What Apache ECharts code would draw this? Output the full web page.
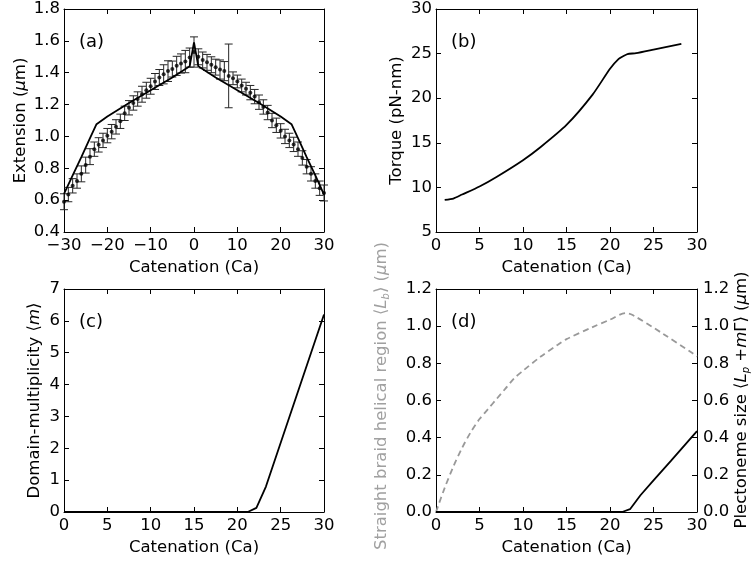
<!DOCTYPE html>
<html>
<head>
<meta charset="utf-8">
<script src="https://cdn.jsdelivr.net/npm/echarts@6/dist/echarts.min.js"></script>
<style>
html,body{margin:0;padding:0;background:#fff;}
#chart{width:754px;height:565px;}
</style>
</head>
<body>
<div id="chart"></div>
<script>
// ---------- DATA ----------
// (a) experimental extension vs catenation, with error bars
const catA = [-30,-29,-28,-27,-26,-25,-24,-23,-22,-21,-20,-19,-18,-17,-16,-15,-14,-13,-12,-11,-10,-9,-8,-7,-6,-5,-4,-3,-2,-1,0,1,2,3,4,5,6,7,8,9,10,11,12,13,14,15,16,17,18,19,20,21,22,23,24,25,26,27,28,29,30];
const extA = [0.59,0.635,0.69,0.72,0.765,0.82,0.873,0.92,0.947,0.975,1.005,1.03,1.06,1.095,1.145,1.18,1.21,1.235,1.265,1.29,1.315,1.345,1.37,1.39,1.41,1.423,1.443,1.458,1.47,1.495,1.53,1.50,1.48,1.465,1.45,1.435,1.42,1.41,1.38,1.365,1.345,1.32,1.30,1.275,1.25,1.215,1.185,1.15,1.10,1.07,1.035,1.0,0.975,0.95,0.92,0.865,0.81,0.765,0.72,0.675,0.645];
const errA = [0.05,0.045,0.045,0.045,0.05,0.05,0.05,0.045,0.045,0.045,0.045,0.045,0.045,0.045,0.045,0.045,0.045,0.045,0.05,0.05,0.05,0.05,0.05,0.06,0.065,0.05,0.06,0.06,0.07,0.06,0.095,0.05,0.05,0.05,0.05,0.05,0.06,0.06,0.2,0.04,0.04,0.04,0.04,0.045,0.045,0.045,0.045,0.045,0.045,0.045,0.045,0.045,0.045,0.045,0.045,0.045,0.045,0.045,0.045,0.045,0.05];
// (a) model curve
const catModel = [-30,-28,-26,-24,-22.5,-20,-15,-10,-5,-1,0,1,5,10,15,20,22.5,24,26,28,30];
const extModel = [0.64,0.755,0.87,0.99,1.077,1.125,1.21,1.29,1.37,1.44,1.59,1.44,1.37,1.29,1.21,1.125,1.077,0.99,0.87,0.755,0.635];
// (b) torque
const catB = [1,2,3,5,7,10,12,15,18,20,21,21.5,22,23,25,28.2];
const torqueB = [8.6,8.75,9.2,10.1,11.2,13.05,14.5,17.0,20.4,23.3,24.4,24.7,24.95,25.05,25.45,26.1];
// (c) domain multiplicity
const catC = [0,5,10,15,20,21.2,22.2,23.3,25.1,30];
const multC = [0,0,0,0,0,0,0.13,0.8,2.25,6.2];
// (d) straight braid helical region (grey dashed, left axis)
const catD1 = [0,1,2,3,4,5,6,7,8,9,10,12,14,15,18,20,21.8,22.6,26,29.5,30];
const lbD = [0.0,0.13,0.245,0.345,0.43,0.5,0.555,0.61,0.665,0.72,0.76,0.835,0.9,0.93,0.995,1.035,1.07,1.06,0.962,0.854,0.836];
// (d) plectoneme size (black, right axis)
const catD2 = [0,5,10,15,20,21.4,22.3,23.5,25,27,30];
const lpD = [0,0,0,0,0,0,0.015,0.09,0.17,0.275,0.435];

// tick settings
const xTicksA = {min:-30, max:30, interval:10};
const yTicksA = {min:0.4, max:1.8, interval:0.2};
const xTicks = {min:0, max:30, interval:5};
const yTicksB = {min:5, max:30, interval:5};
const yTicksC = {min:0, max:7, interval:1};
const yTicksD = {min:0, max:1.2, interval:0.2};
const xName = 'Catenation (Ca)';

// ---------- CHART ----------
const FONT = 'DejaVu Sans';
const FS = 16.5;
const chart = echarts.init(document.getElementById('chart'));

function minusFmt(v){ return v < 0 ? '\u2212' + Math.abs(v) : String(v); }

function xAxisPair(grid, ticks){
  const base = {
    gridIndex: grid, type:'value', min:ticks.min, max:ticks.max, interval:ticks.interval,
    splitLine:{show:false},
    axisLine:{show:true, onZero:false, lineStyle:{color:'#000', width:1}},
    axisTick:{show:true, inside:true, length:5, lineStyle:{color:'#000'}}
  };
  return [
    Object.assign({}, base, {position:'bottom',
      name:xName, nameLocation:'middle', nameGap:27,
      nameTextStyle:{fontFamily:FONT, fontSize:FS, color:'#000'},
      axisLabel:{show:true, margin:5, fontFamily:FONT, fontSize:FS, color:'#000', formatter:minusFmt}}),
    Object.assign({}, base, {position:'top', axisLabel:{show:false}})
  ];
}
function yAxisPair(grid, ticks, fmt, leftName, leftGap, rightLabels){
  const base = {
    gridIndex: grid, type:'value', min:ticks.min, max:ticks.max, interval:ticks.interval,
    splitLine:{show:false},
    axisLine:{show:true, onZero:false, lineStyle:{color:'#000', width:1}},
    axisTick:{show:true, inside:true, length:5, lineStyle:{color:'#000'}}
  };
  const left = Object.assign({}, base, {position:'left',
    axisLabel:{show:true, margin:4, fontFamily:FONT, fontSize:FS, color:'#000', formatter:fmt}});
  if (leftName){
    Object.assign(left, {name:leftName.text, nameLocation:'middle', nameGap:leftGap,
      nameTextStyle:{fontFamily:FONT, fontSize:FS, color:'#000', rich:leftName.rich}});
  }
  const right = Object.assign({}, base, {position:'right',
    axisLabel: rightLabels ? {show:true, margin:6, fontFamily:FONT, fontSize:FS, color:'#000', formatter:fmt} : {show:false}});
  return [left, right];
}
const fmt1 = v => v.toFixed(1);
const fmt0 = v => String(v);
function richFor(color){
  return {
    n:{fontFamily:FONT, fontSize:FS, color:color},
    i:{fontFamily:FONT, fontSize:FS, fontStyle:'italic', color:color}
  };
}
function richG(color){
  return {
    n:{fontFamily:FONT, fontSize:FS, fill:color},
    i:{fontFamily:FONT, fontSize:FS, fontStyle:'italic', fill:color},
    s:{fontFamily:FONT, fontSize:10, fontStyle:'italic', fill:color, verticalAlign:'bottom', lineHeight:18}
  };
}

const xAxes = [].concat(xAxisPair(0, xTicksA), xAxisPair(1, xTicks), xAxisPair(2, xTicks), xAxisPair(3, xTicks));
const yAxes = [].concat(
  yAxisPair(0, yTicksA, fmt1, {text:'{n|Extension (}{i|μ}{n|m)}', rich:richFor('#000')}, 35, false),
  yAxisPair(1, yTicksB, fmt0, {text:'{n|Torque (pN-nm)}', rich:richFor('#000')}, 31, false),
  yAxisPair(2, yTicksC, fmt0, {text:'{n|Domain-multiplicity ⟨}{i|m}{n|⟩}', rich:richFor('#000')}, 21, false),
  yAxisPair(3, yTicksD, fmt1, null, 0, true)
);

const errData = catA.map((c, k) => [c, extA[k] - errA[k], extA[k] + errA[k]]);
const dotData = catA.map((c, k) => [c, extA[k]]);
const modelData = catModel.map((c, k) => [c, extModel[k]]);

function errRender(params, api){
  const x = api.value(0);
  const p1 = api.coord([x, api.value(2)]);
  const p2 = api.coord([x, api.value(1)]);
  const w = 4;
  const st = {stroke:'#262626', lineWidth:1};
  return {type:'group', children:[
    {type:'line', shape:{x1:p1[0], y1:p1[1], x2:p2[0], y2:p2[1]}, style:st},
    {type:'line', shape:{x1:p1[0]-w, y1:p1[1], x2:p1[0]+w, y2:p1[1]}, style:st},
    {type:'line', shape:{x1:p2[0]-w, y1:p2[1], x2:p2[0]+w, y2:p2[1]}, style:st}
  ]};
}

const option = {
  animation:false,
  backgroundColor:'#fff',
  grid:[
    {left:64, top:9, width:260, height:223},
    {left:436, top:9, width:261, height:223},
    {left:64, top:289, width:260, height:223},
    {left:436, top:289, width:261, height:223}
  ],
  xAxis: xAxes,
  yAxis: yAxes,
  series:[
    {type:'custom', xAxisIndex:0, yAxisIndex:0, data:errData, renderItem:errRender, z:2, clip:false},
    {type:'scatter', xAxisIndex:0, yAxisIndex:0, data:dotData, symbolSize:4, itemStyle:{color:'#000'}, z:3},
    {type:'line', xAxisIndex:0, yAxisIndex:0, data:modelData, showSymbol:false, lineStyle:{color:'#000', width:1.8}, z:4},
    {type:'line', xAxisIndex:2, yAxisIndex:2, data:catB.map((c,k)=>[c,torqueB[k]]), showSymbol:false, smooth:0.2, lineStyle:{color:'#000', width:1.8}},
    {type:'line', xAxisIndex:4, yAxisIndex:4, data:catC.map((c,k)=>[c,multC[k]]), showSymbol:false, lineStyle:{color:'#000', width:1.8}},
    {type:'line', xAxisIndex:6, yAxisIndex:6, data:catD1.map((c,k)=>[c,lbD[k]]), showSymbol:false, smooth:0.3, lineStyle:{color:'#999', width:1.8, type:[6,4]}},
    {type:'line', xAxisIndex:6, yAxisIndex:7, data:catD2.map((c,k)=>[c,lpD[k]]), showSymbol:false, lineStyle:{color:'#000', width:1.8}}
  ],
  graphic:[
    {type:'text', x:79, y:42, style:{text:'(a)', font:'18px "'+FONT+'"', fill:'#000', verticalAlign:'middle'}},
    {type:'text', x:451, y:42, style:{text:'(b)', font:'18px "'+FONT+'"', fill:'#000', verticalAlign:'middle'}},
    {type:'text', x:79, y:322, style:{text:'(c)', font:'18px "'+FONT+'"', fill:'#000', verticalAlign:'middle'}},
    {type:'text', x:451, y:322, style:{text:'(d)', font:'18px "'+FONT+'"', fill:'#000', verticalAlign:'middle'}},
    {type:'text', x:382, y:396, rotation:Math.PI/2,
      style:{text:'{n|Straight braid helical region ⟨}{i|L}{s|b}{n|⟩ (}{i|μ}{n|m)}', rich:richG('#a0a0a0'),
        fill:'#a0a0a0', align:'center', verticalAlign:'middle'}},
    {type:'text', x:742, y:400, rotation:Math.PI/2,
      style:{text:'{n|Plectoneme size ⟨}{i|L}{s|p}{n| +}{i|m}{n|Γ⟩ (}{i|μ}{n|m)}', rich:richG('#000'),
        fill:'#000', align:'center', verticalAlign:'middle'}}
  ]
};
chart.setOption(option);
</script>
</body>
</html>
